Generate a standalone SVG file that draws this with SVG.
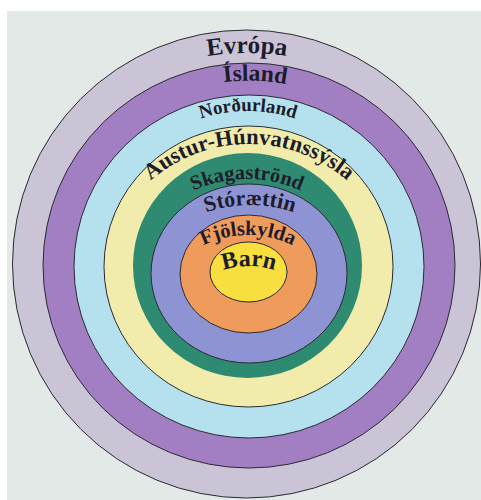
<svg xmlns="http://www.w3.org/2000/svg" width="481" height="500" viewBox="0 0 481 500">
<style>
.ring{stroke:#2a2a30;stroke-width:1}
.lbl{font-family:"Liberation Serif","DejaVu Serif",serif;font-weight:bold;fill:#1d1c2a;text-anchor:middle}
</style>
<defs>
<path id="p1" d="M -3 303 A 250 250 0 0 1 497 303"/>
<path id="p2" d="M 49 280.5 A 200 200 0 0 1 449 280.5"/>
<path id="p3" d="M 98 261 A 150 150 0 0 1 398 261"/>
<path id="p4" d="M 99 294 A 150 150 0 0 1 399 294"/>
<path id="p5" d="M 117 309 A 130 130 0 0 1 377 309"/>
<path id="p6" d="M 115 340 A 135 135 0 0 1 385 340"/>
<path id="p7" d="M 148 335 A 100 100 0 0 1 348 335"/>
<path id="p8" d="M 169 346 A 80 80 0 0 1 329 346"/>
</defs>
<rect x="7" y="11" width="474" height="489" fill="#e3e9e7"/>
<g id="evropa">
<ellipse class="ring" cx="246.5" cy="264" rx="234" ry="234" fill="#cac4d6"/>
</g>
<g id="island">
<ellipse class="ring" cx="249" cy="265.5" rx="206" ry="202.5" fill="#a27fc2"/>
</g>
<g id="nordurland">
<ellipse class="ring" cx="249" cy="266.5" rx="175" ry="171.5" fill="#b5e1ef"/>
</g>
<g id="austur">
<ellipse class="ring" cx="248.5" cy="266.5" rx="144.5" ry="140.5" fill="#f1ecab"/>
</g>
<g id="skagastrond">
<ellipse cx="247.5" cy="265.5" rx="114.5" ry="112.5" fill="#2e8b72"/>
</g>
<g id="storaettin">
<ellipse class="ring" cx="249" cy="273.5" rx="98" ry="89.5" fill="#8e93d4"/>
</g>
<g id="fjolskylda">
<ellipse class="ring" cx="248.5" cy="274" rx="68.5" ry="59" fill="#ef9b5c"/>
</g>
<g id="barn">
<ellipse class="ring" cx="248.5" cy="272" rx="38.5" ry="30" fill="#f7df3f"/>
</g>
<g id="labels">
<text class="lbl" font-size="25"><textPath href="#p1" startOffset="50%">Evrópa</textPath></text>
<text class="lbl" font-size="23.5"><textPath href="#p2" startOffset="320">Ísland</textPath></text>
<text class="lbl" font-size="19"><textPath href="#p3" startOffset="50%">Norðurland</textPath></text>
<text class="lbl" font-size="22.5"><textPath href="#p4" startOffset="50%">Austur-Húnvatnssýsla</textPath></text>
<text class="lbl" font-size="20.5"><textPath href="#p5" startOffset="50%">Skagaströnd</textPath></text>
<text class="lbl" font-size="22"><textPath href="#p6" startOffset="50%">Stórættin</textPath></text>
<text class="lbl" font-size="20.5"><textPath href="#p7" startOffset="50%">Fjölskylda</textPath></text>
<text class="lbl" font-size="24"><textPath href="#p8" startOffset="50%">Barn</textPath></text>
</g>
</svg>
